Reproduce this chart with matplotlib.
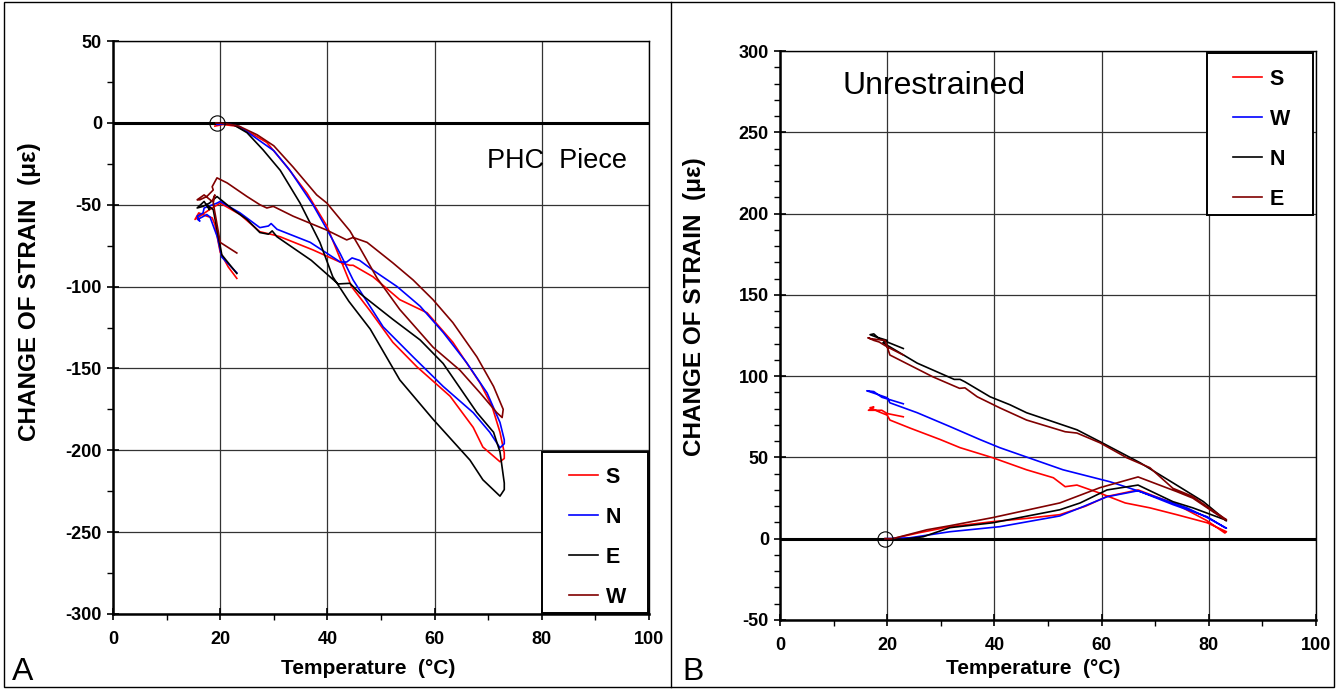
import matplotlib as mpl
import matplotlib.pyplot as plt
from matplotlib.lines import Line2D
from matplotlib.patches import Rectangle
from matplotlib.ticker import MultipleLocator

mpl.rcParams.update({
    "font.family": ["Liberation Sans", "DejaVu Sans"],
    "font.size": 12,
    "font.weight": "bold",
    "axes.unicode_minus": False,
})

RED = "#FF0000"
BLUE = "#0000FF"
BLACK = "#000000"
BROWN = "#800000"

# ---------------- Panel A: PHC piece ----------------
a_s_t = [19.0, 20.5, 23.0, 26.1, 28.7, 32.5, 36.2, 39.9, 44.5, 48.0, 52.2, 56.7, 62.9,
         67.2, 69.0, 72.2, 73.0, 73.0, 72.2, 70.7, 68.5, 63.4, 58.6, 53.5, 48.5, 44.8,
         44.2, 43.0, 37.3, 31.2, 29.9, 27.4, 23.7, 20.0, 18.0, 16.2, 15.3, 16.0, 17.5,
         18.5, 19.0, 20.0, 21.5, 23.1]
a_s_y = [-2, -1, -2, -7, -12, -27, -43, -63, -100, -115, -134, -149, -167,
         -186, -198, -207, -205, -201.6, -189, -173, -159, -134, -116, -108, -94, -87,
         -87, -86, -77.6, -69.6, -68.4, -66.5, -56, -49, -53, -57, -59, -55, -57,
         -58, -62, -79, -88, -95]

a_n_t = [19.4, 21.5, 23.7, 27.4, 30.0, 33.0, 37.3, 39.9, 42.4, 44.8, 50.4, 56.0, 61.6,
         67.2, 70.3, 72.2, 73.0, 73.0, 72.2, 69.8, 66.0, 61.6, 57.3, 53.0, 48.5, 46.0,
         44.6, 43.6, 42.4, 36.8, 30.6, 29.5, 29.0, 27.4, 23.7, 20.0, 19.4, 17.0, 16.8,
         15.7, 16.2, 15.8, 17.5, 18.1, 19.5, 20.3, 23.1]
a_n_y = [-1, -0.5, -2.4, -11, -17, -29, -50, -65, -80, -96, -124.6, -143, -161,
         -177, -189, -198.5, -196, -193.6, -183, -165, -146.6, -128, -112, -100, -90, -84,
         -82.5, -85, -85, -73, -65, -61.5, -63, -64, -55, -48, -49, -52, -55,
         -57, -60, -59, -56, -57.5, -70, -82, -91.6]

a_e_t = [19.5, 22.4, 25.0, 28.0, 31.2, 34.9, 38.6, 41.0, 44.0, 48.0, 53.5, 59.7, 66.6,
         69.0, 72.2, 73.0, 73.0, 72.2, 71.0, 67.9, 61.6, 57.3, 52.2, 46.0, 44.2, 42.0,
         37.0, 30.6, 29.7, 29.0, 27.4, 25.0, 22.4, 19.4, 18.0, 16.8, 15.7, 17.0, 18.0,
         17.5, 18.7, 20.3, 23.1]
a_e_y = [0, -1, -6, -16.5, -29, -49, -73, -94, -109, -126, -157, -181, -206,
         -218, -228, -224, -220, -201, -189, -177, -147, -132.6, -120, -104, -98, -98.4,
         -84, -69.6, -66, -68, -67, -59, -53, -45, -49, -51, -52, -48, -53,
         -50, -53, -80.6, -92]

a_w_t = [19.2, 21.0, 23.5, 26.9, 30.0, 33.6, 38.0, 39.9, 44.2, 46.0, 49.3, 53.5, 59.7,
         64.7, 68.5, 71.6, 72.6, 72.8, 71.0, 67.9, 63.4, 59.7, 56.0, 52.2, 47.4, 44.8,
         43.6, 39.8, 33.6, 29.9, 28.7, 27.4, 25.0, 21.3, 19.4, 18.5, 18.7, 17.5, 16.2,
         15.7, 17.0, 18.5, 19.0, 18.7, 20.0, 23.1]
a_w_y = [0, -0.5, -2, -7.3, -14, -27, -44, -49, -66, -76, -95, -114, -137,
         -151, -165, -177, -180, -175, -161, -143, -122, -108, -96, -85.5, -73, -70,
         -71.5, -65.4, -57, -51, -52, -50, -45, -36.7, -33.6, -39, -41, -45, -47,
         -47, -44, -48, -44, -49, -73, -79.5]

# ---------------- Panel B: unrestrained ----------------
b_s_t = [19.6, 21.0, 26.0, 31.7, 39.7, 46.0, 52.2, 57.0, 61.0, 66.8, 70.0, 74.0, 79.7,
         83.0, 83.3, 79.7, 74.0, 69.0, 64.4, 59.7, 55.4, 53.2, 51.0, 46.0, 39.7, 33.6,
         29.9, 24.3, 20.5, 20.0, 18.5, 16.8, 17.5, 16.5, 19.0, 20.0, 23.0]
b_s_y = [0, 0, 3.7, 7.4, 10.5, 12.5, 14.8, 20, 26, 30, 26, 21, 11,
         3.5, 4.3, 9.8, 14.8, 19, 22, 28, 33, 32, 37.5, 42.4, 49.8, 56,
         61, 68, 73, 76, 78, 80.6, 81, 79, 79, 77, 75]

b_w_t = [19.6, 24.3, 31.7, 41.0, 52.2, 56.0, 61.0, 66.8, 73.3, 79.7, 83.0, 83.3, 79.7,
         75.9, 67.2, 61.6, 52.8, 41.0, 37.3, 31.7, 25.6, 20.5, 20.0, 18.0, 16.2, 17.5,
         19.0, 23.0]
b_w_y = [0, 0.6, 4.3, 7.4, 14, 19, 25.8, 29.5, 21, 13.5, 6.8, 6.5, 13,
         19, 29, 35, 42.4, 56, 61, 69, 77.5, 83.6, 86.7, 89, 91, 90.5,
         87, 83]

b_n_t = [19.6, 23.0, 26.7, 31.7, 39.7, 52.2, 56.0, 61.0, 66.8, 73.3, 77.0, 83.0, 83.3,
         79.0, 73.3, 67.2, 59.7, 55.4, 46.0, 42.9, 39.2, 34.5, 33.6, 32.5, 25.6, 20.5,
         19.2, 20.0, 18.0, 16.8, 17.5, 18.5, 20.0, 23.0]
b_n_y = [0, -0.3, 1.2, 6.8, 9.8, 17.8, 22, 30, 33, 22.8, 19, 11.7, 11,
         22.8, 34.4, 46.7, 59.7, 67, 77.5, 82.4, 87.3, 96.5, 98, 98, 108, 118,
         120.5, 122, 124, 125.5, 126, 123, 121, 117]

b_e_t = [19.6, 21.0, 27.4, 31.7, 39.7, 52.2, 59.7, 66.8, 74.0, 77.0, 83.0, 83.3, 79.7,
         77.0, 73.3, 69.0, 64.7, 59.7, 55.4, 53.2, 46.0, 41.0, 36.8, 34.5, 33.5, 28.5,
         20.5, 20.0, 19.6, 17.0, 16.4, 17.5, 18.5, 20.0, 23.0]
b_e_y = [0, 0, 5.5, 8, 13, 22, 31.4, 38, 29, 25, 11.7, 11.7, 19.7,
         26, 31, 43.7, 49.8, 59, 65, 65.8, 73, 80.5, 87.3, 92.8, 92.5, 99.6,
         113, 118, 122, 123, 123.6, 122, 121, 118, 113]

SERIES_A = [("S", a_s_t, a_s_y, RED), ("N", a_n_t, a_n_y, BLUE),
            ("E", a_e_t, a_e_y, BLACK), ("W", a_w_t, a_w_y, BROWN)]
SERIES_B = [("S", b_s_t, b_s_y, RED), ("W", b_w_t, b_w_y, BLUE),
            ("N", b_n_t, b_n_y, BLACK), ("E", b_e_t, b_e_y, BROWN)]

W, H = 1336, 689
fig = plt.figure(figsize=(W / 100, H / 100), dpi=100)


def px_axes(x0, x1, y0, y1):
    return fig.add_axes([x0 / W, 1 - y1 / H, (x1 - x0) / W, (y1 - y0) / H])


def style(ax, xlim, ylim, yminor):
    ax.set_xlim(*xlim)
    ax.set_ylim(*ylim)
    ax.xaxis.set_major_locator(MultipleLocator(20))
    ax.xaxis.set_minor_locator(MultipleLocator(10))
    ax.yaxis.set_major_locator(MultipleLocator(50))
    ax.yaxis.set_minor_locator(MultipleLocator(yminor))
    ax.grid(True, which="major", color="#333333", lw=0.9)
    ax.set_axisbelow(True)
    ax.tick_params(which="major", direction="inout", length=8, width=1.2,
                   labelsize=13)
    ax.tick_params(which="minor", direction="out", length=4, width=1.0)
    ax.tick_params(axis="y", which="major", pad=4)
    ax.tick_params(axis="x", which="major", pad=8)
    for side in ("left", "bottom"):
        ax.spines[side].set_linewidth(1.8)
    for side in ("top", "right"):
        ax.spines[side].set_linewidth(1.0)
    ax.axhline(0, color="black", lw=2.2, zorder=2)


def legend_box(ax, series, x0, y0, x1, y1, anchor):
    ax.add_patch(Rectangle((x0, y0), x1 - x0, y1 - y0, transform=fig.transFigure,
                           facecolor="white", edgecolor="black", lw=1.4,
                           zorder=5))
    handles = [Line2D([], [], color=c, lw=1.2) for _, _, _, c in series]
    labels = [n for n, _, _, _ in series]
    leg = ax.legend(handles, labels, loc="upper left", frameon=False,
                    bbox_to_anchor=anchor, bbox_transform=fig.transFigure,
                    prop={"size": 15.5, "weight": "bold"},
                    handlelength=1.35, handletextpad=0.35, labelspacing=0.88,
                    borderpad=0, borderaxespad=0)
    leg.set_zorder(6)


# ----- Panel A -----
axA = px_axes(113, 649, 41, 614)
style(axA, (0, 100), (-300, 50), 25)
for name, t, y, c in SERIES_A:
    axA.plot(t, y, color=c, lw=1.2, zorder=3)
axA.plot([19.4], [0], "o", ms=11, mfc="none", mec="black", mew=0.8, zorder=4)
axA.text(557 / W, 1 - 161 / H, "PHC  Piece", transform=fig.transFigure,
         fontsize=19.5, fontweight="normal", ha="center", va="center")
legend_box(axA, SERIES_A, 542 / W, 1 - 613 / H, 648 / W, 1 - 452 / H,
           (569 / W, 1 - 467 / H))

# ----- Panel B -----
axB = px_axes(780, 1316, 51, 620)
style(axB, (0, 100), (-50, 300), 10)
for name, t, y, c in SERIES_B:
    axB.plot(t, y, color=c, lw=1.2, zorder=3)
axB.plot([19.6], [0], "o", ms=11, mfc="none", mec="black", mew=0.8, zorder=4)
axB.text(934 / W, 1 - 86 / H, "Unrestrained", transform=fig.transFigure,
         fontsize=23, fontweight="normal", ha="center", va="center")
legend_box(axB, SERIES_B, 1207 / W, 1 - 215 / H, 1313 / W, 1 - 53 / H,
           (1233 / W, 1 - 69 / H))

# ----- axis labels and panel letters -----
fig.text(368 / W, 1 - 668 / H, "Temperature  (°C)", ha="center", va="center",
         fontsize=15, fontweight="bold")
fig.text(1033 / W, 1 - 668 / H, "Temperature  (°C)", ha="center", va="center",
         fontsize=15, fontweight="bold")
fig.text(30 / W, 1 - 292 / H, "CHANGE OF STRAIN  (με)", ha="center", va="center",
         rotation=90, fontsize=17.5, fontweight="bold")
fig.text(695 / W, 1 - 307 / H, "CHANGE OF STRAIN  (με)", ha="center", va="center",
         rotation=90, fontsize=17.5, fontweight="bold")
fig.text(12 / W, 1 - 680 / H, "A", fontsize=23, fontweight="normal",
         ha="left", va="baseline")
fig.text(682 / W, 1 - 680 / H, "B", fontsize=23, fontweight="normal",
         ha="left", va="baseline")

# outer frame and divider
fig.add_artist(Rectangle((4 / W, 2 / H), 1330 / W, 685 / H,
                         transform=fig.transFigure, fill=False,
                         edgecolor="black", lw=1.0))
fig.add_artist(Line2D([671 / W, 671 / W], [2 / H, 1 - 2 / H],
                      transform=fig.transFigure, color="black", lw=1.0))

fig.savefig("out.png", dpi=100, facecolor="white")
